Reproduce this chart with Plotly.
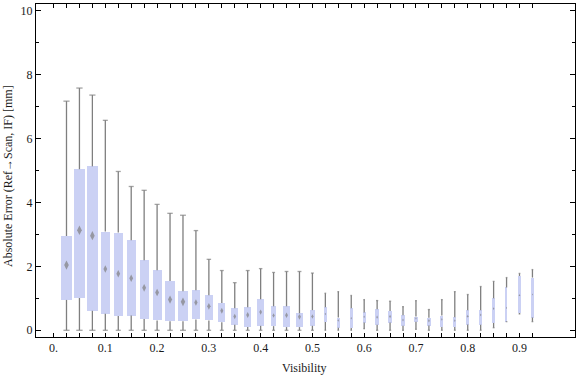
import plotly.graph_objects as go

# ---- data ----
visibility = [0.025, 0.05, 0.075, 0.1, 0.125, 0.15, 0.175, 0.2, 0.225, 0.25,
              0.275, 0.3, 0.325, 0.35, 0.375, 0.4, 0.425, 0.45, 0.475, 0.5,
              0.525, 0.55, 0.575, 0.6, 0.625, 0.65, 0.675, 0.7, 0.725, 0.75,
              0.775, 0.8, 0.825, 0.85, 0.875, 0.9, 0.925]
whisker_low = [0, 0, 0, 0, 0, 0, 0, 0, 0, 0,
               0, 0, 0, 0, 0, 0, 0, 0, 0, 0,
               0, 0, 0, 0.05, 0, 0, 0, 0.03, 0, 0,
               0, 0, 0, 0.08, 0.27, 0.51, 0.27]
q1 = [0.95, 1.01, 0.61, 0.52, 0.45, 0.46, 0.35, 0.31, 0.28, 0.28,
      0.34, 0.31, 0.25, 0.17, 0.10, 0.14, 0.13, 0.10, 0.10, 0.14,
      0.26, 0.08, 0.07, 0.24, 0.17, 0.24, 0.14, 0.27, 0.15, 0.10,
      0.10, 0.18, 0.17, 0.23, 0.27, 0.54, 0.40]
median = [2.04, 3.13, 2.96, 1.92, 1.77, 1.63, 1.33, 1.18, 0.96, 0.89,
          0.87, 0.75, 0.61, 0.43, 0.48, 0.57, 0.46, 0.47, 0.42, 0.43,
          0.51, 0.31, 0.38, 0.42, 0.41, 0.43, 0.32, 0.37, 0.30, 0.34,
          0.30, 0.44, 0.48, 0.68, 0.70, 1.10, 1.12]
q3 = [2.95, 5.04, 5.13, 3.09, 3.06, 2.82, 2.19, 1.88, 1.54, 1.22,
      1.25, 1.10, 0.85, 0.69, 0.72, 0.97, 0.75, 0.75, 0.53, 0.63,
      0.72, 0.40, 0.69, 0.56, 0.66, 0.60, 0.47, 0.43, 0.39, 0.46,
      0.41, 0.63, 0.63, 1.00, 1.34, 1.70, 1.65]
whisker_high = [7.17, 7.58, 7.36, 6.57, 4.97, 4.50, 4.38, 3.94, 3.66, 3.60,
                3.12, 2.22, 1.87, 1.49, 1.87, 1.93, 1.81, 1.84, 1.84, 1.79,
                1.16, 1.21, 1.09, 0.96, 0.93, 0.91, 0.74, 0.93, 0.65, 0.96,
                1.21, 1.12, 1.37, 1.53, 1.65, 1.78, 1.90]

x_label_vals = [0.0, 0.1, 0.2, 0.3, 0.4, 0.5, 0.6, 0.7, 0.8, 0.9]
x_label_text = ["0.", "0.1", "0.2", "0.3", "0.4", "0.5", "0.6", "0.7", "0.8", "0.9"]
y_tick_vals = [0, 2, 4, 6, 8, 10]
x_title = "Visibility"
y_title = "Absolute Error (Ref\u2192Scan, IF) [mm]"

# ---- styling ----
PX_PER_UNIT = 517.7
box_width_px = [11, 11.3, 11, 9, 9, 9, 9.3, 9, 9.7, 10.5,
                8, 8, 7, 6.7, 7, 6.3, 5.3, 6.7, 7, 5.3,
                3, 3, 3, 3, 4, 4, 3.5, 3.3, 4, 3.3,
                3.3, 3.5, 3.3, 3.3, 1.5, 2.3, 2.2]
box_widths = [w / PX_PER_UNIT for w in box_width_px]
cap_sizes = [max(1.2, 0.4 * w) for w in box_width_px]
diamond_sizes = [max(1.5, 0.6 * w) for w in box_width_px]

BOX_COLOR = "#cbd1f4"
GRAY = "#7f7f7f"
FONT = "Liberation Serif"
TXT = "#1a1a1a"

# x ticks: one at 0 and one at every box position; labels every 0.1
x_tick_vals = [0.0] + visibility
label_map = {round(v, 3): t for v, t in zip(x_label_vals, x_label_text)}
x_tick_text = [label_map.get(round(v, 3), "") for v in x_tick_vals]

# whisker segments (outside the boxes)
wx, wy = [], []
for x, lo, a, b, hi in zip(visibility, whisker_low, q1, q3, whisker_high):
    wx += [x, x, None, x, x, None]
    wy += [lo, a, None, b, hi, None]

fig = go.Figure()
fig.add_trace(go.Bar(
    x=visibility, y=[b - a for a, b in zip(q1, q3)], base=q1,
    width=box_widths, marker=dict(color=BOX_COLOR, line=dict(width=0)),
    hoverinfo="skip", showlegend=False))
fig.add_trace(go.Scatter(
    x=wx, y=wy, mode="lines", line=dict(color=GRAY, width=1.3),
    hoverinfo="skip", showlegend=False))
fig.add_trace(go.Scatter(
    x=visibility + visibility, y=whisker_low + whisker_high, mode="markers",
    marker=dict(symbol="line-ew", size=cap_sizes + cap_sizes,
                line=dict(color=GRAY, width=1.3), color=GRAY),
    hoverinfo="skip", showlegend=False))
fig.add_trace(go.Scatter(
    x=visibility, y=median, mode="markers",
    marker=dict(symbol="diamond-tall", size=diamond_sizes, color=GRAY,
                line=dict(width=0)),
    showlegend=False))

axis_common = dict(
    showline=True, linecolor="black", linewidth=1, mirror="ticks",
    ticks="inside", tickcolor="black", showgrid=False, zeroline=False,
    automargin=False,
    tickfont=dict(family=FONT, size=12, color=TXT),
)

fig.update_layout(
    width=576, height=377,
    margin=dict(l=36, r=1, t=4, b=40),
    paper_bgcolor="white", plot_bgcolor="white",
    font=dict(family=FONT, size=12, color=TXT),
    bargap=0,
    xaxis=dict(
        range=[-0.0339, 1.0072],
        tickmode="array", tickvals=x_tick_vals, ticktext=x_tick_text,
        ticklen=4, tickwidth=1,
        **axis_common),
    yaxis=dict(
        range=[-0.21, 10.21],
        tickvals=y_tick_vals,
        ticklen=5, tickwidth=1,
        minor=dict(dtick=1, tick0=0, ticklen=3, ticks="inside",
                   tickcolor="black", showgrid=False),
        **axis_common),
    annotations=[
        dict(text=x_title, xref="paper", yref="paper",
             x=(304 - 36) / 539, y=(337 - 368) / 333,
             xanchor="center", yanchor="middle", showarrow=False,
             font=dict(family=FONT, size=12, color=TXT)),
        dict(text=y_title, xref="paper", yref="paper",
             x=(8 - 36) / 539, y=(337 - 176) / 333,
             xanchor="center", yanchor="middle", showarrow=False,
             textangle=-90,
             font=dict(family=FONT, size=12, color=TXT)),
    ],
)

fig.write_html("out.html",
               config={"displayModeBar": False},
               post_script="document.body.style.margin='0';"
                           "document.body.style.padding='0';")
